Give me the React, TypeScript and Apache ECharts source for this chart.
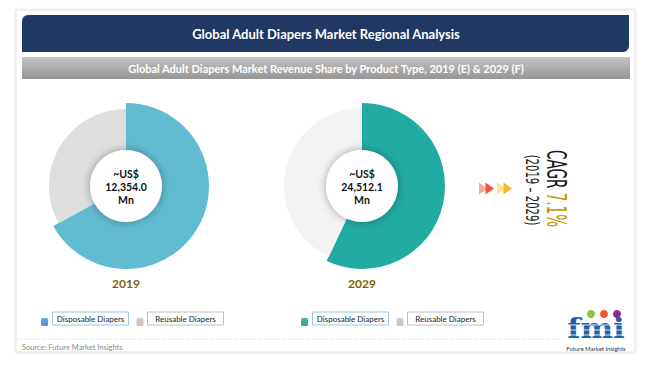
import React, { useEffect, useRef } from 'react';
import * as echarts from 'echarts';

const years = ['2019', '2029'];
const productTypes = ['Disposable Diapers', 'Reusable Diapers'];
const disposableShare = [67, 57];
const reusableShare = [33, 43];
const marketSize = ['12,354.0', '24,512.1'];
const currencyPrefix = '~US$';
const unitLabel = 'Mn';
const cagrLabel = 'CAGR';
const cagrValue = '7.1%';
const cagrPeriod = '(2019 – 2029)';
const titleText = 'Global Adult Diapers Market Regional Analysis';
const subtitleText = 'Global Adult Diapers Market Revenue Share by Product Type, 2019 (E) & 2029 (F)';
const sourceText = 'Source: Future Market Insights';
const logoText = 'fmi';
const logoCaption = 'Future Market Insights';

const centers = [[126, 186], [362, 186]];
const disposableColors = ['#62bcd1', '#21aba3'];
const reusableColors = ['#dedede', '#f3f3f3'];
const legendIconColors = ['#4a90d4', '#21a79f'];
const outerDisposable = [83, 83];
const outerReusable = [77, 78];
const legendBase = [41, 301];

const FONT = 'Lato, "Open Sans", sans-serif';

export default function App() {
  const ref = useRef<HTMLDivElement>(null);
  useEffect(() => {
    if (!ref.current) return;
    const chart = echarts.init(ref.current, null, { renderer: 'svg' });
    const transparent = 'rgba(0,0,0,0)';

    const series: any[] = [];
    years.forEach((y, i) => {
      const common = {
        type: 'pie',
        center: centers[i],
        startAngle: 90,
        clockwise: true,
        silent: true,
        label: { show: false },
        labelLine: { show: false },
        emphasis: { disabled: true },
      };
      series.push({
        ...common,
        name: y + ' disposable',
        radius: [30, outerDisposable[i]],
        data: [
          { name: productTypes[0], value: disposableShare[i], itemStyle: { color: disposableColors[i] } },
          { name: productTypes[1], value: reusableShare[i], itemStyle: { color: transparent } },
        ],
      });
      series.push({
        ...common,
        name: y + ' reusable',
        radius: [30, outerReusable[i]],
        data: [
          { name: productTypes[0], value: disposableShare[i], itemStyle: { color: transparent } },
          { name: productTypes[1], value: reusableShare[i], itemStyle: { color: reusableColors[i] } },
        ],
      });
    });

    const g: any[] = [];
    // frame
    g.push({
      type: 'rect', z: -10,
      shape: { x: 16, y: 10, width: 619, height: 342 },
      style: { fill: '#ffffff', stroke: '#e4e4e4', lineWidth: 1, shadowBlur: 3, shadowColor: 'rgba(0,0,0,0.12)' },
    });
    // title bar
    g.push({
      type: 'rect', z: 1,
      shape: { x: 22, y: 15, width: 607, height: 37, r: [6, 0, 6, 0] },
      style: { fill: '#1f3864' },
    });
    g.push({
      type: 'text', z: 2, x: 326, y: 34,
      style: { text: titleText, fill: '#ffffff', fontFamily: FONT, fontWeight: 'bold', fontSize: 13, align: 'center', verticalAlign: 'middle' },
    });
    // subtitle bar
    g.push({
      type: 'rect', z: 1,
      shape: { x: 22, y: 57, width: 608, height: 22 },
      style: {
        fill: new echarts.graphic.LinearGradient(0, 0, 0, 1, [
          { offset: 0, color: '#c4c4c4' },
          { offset: 1, color: '#959595' },
        ]),
      },
    });
    g.push({
      type: 'text', z: 2, x: 326, y: 68,
      style: { text: subtitleText, fill: '#ffffff', fontFamily: FONT, fontWeight: 'bold', fontSize: 11, align: 'center', verticalAlign: 'middle' },
    });

    years.forEach((y, i) => {
      const [cx, cy] = centers[i];
      g.push({
        type: 'circle', z: 50,
        shape: { cx, cy, r: 36 },
        style: { fill: '#ffffff', shadowBlur: 8, shadowColor: 'rgba(0,0,0,0.35)' },
      });
      [currencyPrefix, marketSize[i], unitLabel].forEach((t, k) => {
        g.push({
          type: 'text', z: 51, x: cx, y: cy - 12 + k * 13,
          style: { text: t, fill: '#111111', fontFamily: FONT, fontWeight: 'bold', fontSize: 10.5, align: 'center', verticalAlign: 'middle' },
        });
      });
      g.push({
        type: 'text', z: 5, x: cx, y: 283,
        style: { text: y, fill: '#7f6000', fontFamily: FONT, fontWeight: 'bold', fontSize: 12, align: 'center', verticalAlign: 'middle' },
      });

      // legend
      const bx = legendBase[i];
      const iconOffsets = [0, 95.5];
      const boxOffsets = [11.5, 106.5];
      productTypes.forEach((p, k) => {
        const iconColor = k === 0 ? legendIconColors[i] : '#c4c4c4';
        g.push({
          type: 'rect', z: 5,
          shape: { x: bx + iconOffsets[k], y: 318, width: 7, height: 8, r: 1.5 },
          style: {
            fill: new echarts.graphic.LinearGradient(0, 0, 0, 1, [
              { offset: 0, color: echarts.color.lift(iconColor, 0.2) },
              { offset: 1, color: iconColor },
            ]),
          },
        });
        g.push({
          type: 'rect', z: 5,
          shape: { x: bx + boxOffsets[k], y: 312, width: 76, height: 13 },
          style: { fill: '#ffffff', stroke: k === 0 ? '#9dc3e6' : '#bfbfbf', lineWidth: 1 },
        });
        g.push({
          type: 'text', z: 6, x: bx + boxOffsets[k] + 38, y: 318.5,
          style: { text: p, fill: '#222222', fontFamily: FONT, fontSize: 8, align: 'center', verticalAlign: 'middle' },
        });
      });
    });

    // CAGR rotated texts
    g.push({
      type: 'text', z: 5, x: 556.5, y: 188.5, rotation: -Math.PI / 2, scaleX: 0.58,
      style: {
        text: '{a|' + cagrLabel + '} {b|' + cagrValue + '}',
        fontFamily: '"DejaVu Sans Condensed", sans-serif', fontSize: 26,
        align: 'center', verticalAlign: 'middle',
        rich: {
          a: { fill: '#1a1a1a', fontFamily: '"DejaVu Sans Condensed", sans-serif', fontSize: 26 },
          b: { fill: '#c8960c', fontFamily: '"DejaVu Sans Condensed", sans-serif', fontSize: 26 },
        },
      },
    });
    g.push({
      type: 'text', z: 5, x: 531.5, y: 190, rotation: -Math.PI / 2, scaleX: 0.66,
      style: {
        text: cagrPeriod, fill: '#1a1a1a',
        fontFamily: '"DejaVu Sans Condensed", sans-serif', fontSize: 17,
        align: 'center', verticalAlign: 'middle',
      },
    });
    // arrows
    const arrows = [
      [479, '#f8a99d'], [485.5, '#f05a3c'], [497, '#fde28c'], [503.5, '#fbb426'],
    ] as [number, string][];
    arrows.forEach(([ax, col]) => {
      g.push({
        type: 'polygon', z: 5,
        shape: { points: [[ax, 182.5], [ax + 8.5, 188.5], [ax, 194.5]] },
        style: { fill: col },
      });
    });

    // dotted line and source
    g.push({
      type: 'line', z: 5,
      shape: { x1: 18, y1: 339, x2: 560, y2: 339 },
      style: { stroke: '#cccccc', lineWidth: 1, lineDash: [1, 2] },
    });
    g.push({
      type: 'text', z: 5, x: 22, y: 347,
      style: { text: sourceText, fill: '#8c8c8c', fontFamily: FONT, fontSize: 7.5, align: 'left', verticalAlign: 'middle' },
    });

    // logo
    g.push({
      type: 'text', z: 5, x: 596, y: 328, scaleX: 1.1,
      style: { text: logoText, fill: '#1b62ad', fontFamily: '"DejaVu Serif", serif', fontWeight: 'bold', fontSize: 28, align: 'center', verticalAlign: 'middle' },
    });
    [325, 330, 335].forEach((ly) => {
      g.push({
        type: 'line', z: 6,
        shape: { x1: 564, y1: ly, x2: 628, y2: ly },
        style: { stroke: 'rgba(255,255,255,0.8)', lineWidth: 1 },
      });
    });
    [[591, '#8cc63f'], [604, '#f15a24'], [617, '#92278f']].forEach(([cx, col]: any) => {
      g.push({
        type: 'circle', z: 6,
        shape: { cx, cy: 314, r: 4 },
        style: { fill: col },
      });
    });
    g.push({
      type: 'text', z: 5, x: 596, y: 348.5,
      style: { text: logoCaption, fill: '#333333', fontFamily: FONT, fontSize: 6, align: 'center', verticalAlign: 'middle' },
    });

    chart.setOption({
      animation: false,
      backgroundColor: '#ffffff',
      series,
      graphic: { elements: g },
    });
    return () => chart.dispose();
  }, []);
  return <div ref={ref} style={{ position: 'fixed', left: 0, top: 0, width: 650, height: 366 }} />;
}
